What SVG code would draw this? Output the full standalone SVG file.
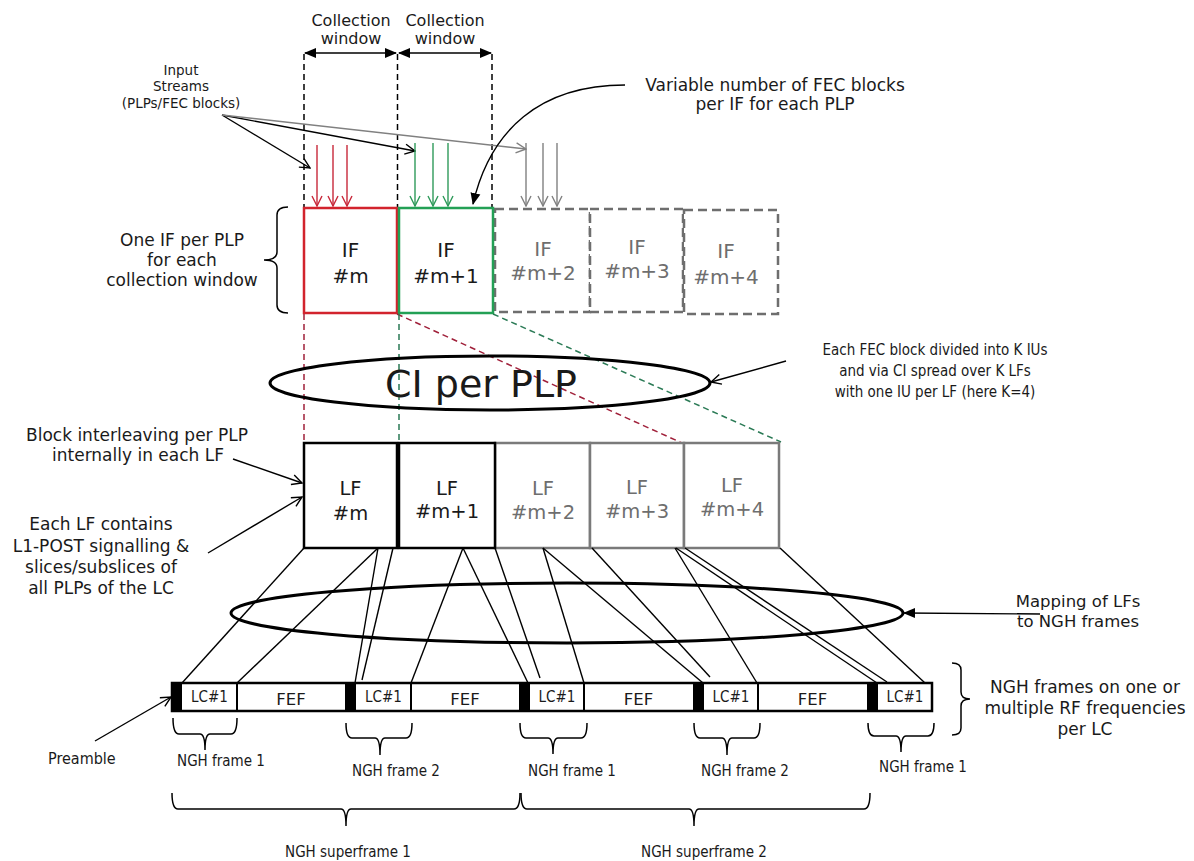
<svg xmlns="http://www.w3.org/2000/svg" width="1194" height="861" viewBox="0 0 1194 861">
  <defs>
    <style>
      text { font-family: "DejaVu Sans", Verdana, sans-serif; fill: #1a1a1a; text-anchor: middle; }
      .cond { font-family: "DejaVu Sans Condensed", "DejaVu Sans", sans-serif; font-stretch: condensed; }
      .grey { fill: #6e6e6e; }
      .thin { fill: none; stroke: #000; stroke-width: 1.4; }
      .guide { fill: none; stroke: #000; stroke-width: 1.5; stroke-dasharray: 6 4; }
      .brace { fill: none; stroke: #000; stroke-width: 1.5; }
      .lfb { fill: #fff; stroke: #000; stroke-width: 2.5; }
      .lfg { fill: #fff; stroke: #7a7a7a; stroke-width: 2.5; }
      .ifg { fill: #fff; stroke: #6e6e6e; stroke-width: 2.5; stroke-dasharray: 9 5; }
    </style>
    <marker id="open" viewBox="0 0 12 12" refX="11" refY="6" markerWidth="12" markerHeight="12" orient="auto" markerUnits="userSpaceOnUse">
      <path d="M1,1 L11,6 L1,11" fill="none" stroke="#000" stroke-width="1.4"/>
    </marker>
    <marker id="openRed" viewBox="0 0 12 12" refX="11" refY="6" markerWidth="12" markerHeight="12" orient="auto" markerUnits="userSpaceOnUse">
      <path d="M1,1 L11,6 L1,11" fill="none" stroke="#c8283a" stroke-width="1.4"/>
    </marker>
    <marker id="openGreen" viewBox="0 0 12 12" refX="11" refY="6" markerWidth="12" markerHeight="12" orient="auto" markerUnits="userSpaceOnUse">
      <path d="M1,1 L11,6 L1,11" fill="none" stroke="#2e9a5a" stroke-width="1.4"/>
    </marker>
    <marker id="openGrey" viewBox="0 0 12 12" refX="11" refY="6" markerWidth="12" markerHeight="12" orient="auto" markerUnits="userSpaceOnUse">
      <path d="M1,1 L11,6 L1,11" fill="none" stroke="#808080" stroke-width="1.4"/>
    </marker>
    <marker id="solid" viewBox="0 0 12 12" refX="11" refY="6" markerWidth="12" markerHeight="12" orient="auto-start-reverse" markerUnits="userSpaceOnUse">
      <path d="M0,1 L12,6 L0,11 Z" fill="#000"/>
    </marker>
  </defs>
  <rect width="1194" height="861" fill="#fff"/>

  <!-- collection windows -->
  <g id="collection-windows">
    <text x="351" y="26" font-size="16">Collection</text>
    <text x="351" y="44" font-size="16">window</text>
    <text x="445" y="26" font-size="16">Collection</text>
    <text x="445" y="44" font-size="16">window</text>
    <line class="guide" x1="304" y1="54" x2="304" y2="207"/>
    <line class="guide" x1="397.5" y1="54" x2="397.5" y2="207"/>
    <line class="guide" x1="492" y1="54" x2="492" y2="207"/>
    <line class="thin" x1="305" y1="53" x2="396" y2="53" marker-start="url(#solid)" marker-end="url(#solid)"/>
    <line class="thin" x1="399" y1="53" x2="491" y2="53" marker-start="url(#solid)" marker-end="url(#solid)"/>
  </g>

  <!-- input streams -->
  <g id="input-streams">
    <text x="181" y="75" font-size="13.5">Input</text>
    <text x="181" y="91" font-size="13.5">Streams</text>
    <text x="181" y="108" font-size="13.5">(PLPs/FEC blocks)</text>
    <line class="thin" x1="222" y1="115" x2="310" y2="168" marker-end="url(#open)"/>
    <line class="thin" x1="222" y1="115" x2="415" y2="151" marker-end="url(#open)"/>
    <line x1="222" y1="115" x2="526" y2="149" stroke="#808080" stroke-width="1.4" marker-end="url(#openGrey)"/>
    <g stroke="#c8283a" stroke-width="1.4">
      <line x1="317" y1="145" x2="317" y2="206" marker-end="url(#openRed)"/>
      <line x1="333" y1="145" x2="333" y2="206" marker-end="url(#openRed)"/>
      <line x1="347" y1="145" x2="347" y2="206" marker-end="url(#openRed)"/>
    </g>
    <g stroke="#2e9a5a" stroke-width="1.4">
      <line x1="415" y1="143" x2="415" y2="206" marker-end="url(#openGreen)"/>
      <line x1="433" y1="143" x2="433" y2="206" marker-end="url(#openGreen)"/>
      <line x1="448" y1="143" x2="448" y2="206" marker-end="url(#openGreen)"/>
    </g>
    <g stroke="#808080" stroke-width="1.4">
      <line x1="526" y1="143" x2="526" y2="206" marker-end="url(#openGrey)"/>
      <line x1="543" y1="143" x2="543" y2="206" marker-end="url(#openGrey)"/>
      <line x1="557" y1="143" x2="557" y2="206" marker-end="url(#openGrey)"/>
    </g>
  </g>

  <!-- variable number note -->
  <g id="fec-note">
    <text x="775" y="91" font-size="17">Variable number of FEC blocks</text>
    <text x="775" y="110" font-size="17">per IF for each PLP</text>
    <path class="thin" d="M625,85 C540,85 490,130 473,204" marker-end="url(#solid)"/>
  </g>

  <!-- interleaving frames -->
  <g id="if-label">
    <path class="brace" d="M288,207 Q277,207 277,215 L277,252 Q277,260 264,260 Q277,260 277,268 L277,305 Q277,313 288,313"/>
    <text x="182" y="246" font-size="17">One IF per PLP</text>
    <text x="182" y="266" font-size="17">for each</text>
    <text x="182" y="286" font-size="17">collection window</text>
  </g>
  <g id="if-m+2">
    <rect class="ifg" x="495" y="209" width="95" height="103"/>
    <text class="grey" x="543" y="256" font-size="20">IF</text>
    <text class="grey" x="543" y="280" font-size="20">#m+2</text>
  </g>
  <g id="if-m+3">
    <rect class="ifg" x="590" y="209" width="93" height="103"/>
    <text class="grey" x="637" y="254" font-size="20">IF</text>
    <text class="grey" x="637" y="278" font-size="20">#m+3</text>
  </g>
  <g id="if-m+4">
    <rect class="ifg" x="684" y="210" width="94" height="104"/>
    <text class="grey" x="726" y="258" font-size="20">IF</text>
    <text class="grey" x="726" y="284" font-size="20">#m+4</text>
  </g>
  <g id="if-m">
    <rect x="304" y="208" width="93" height="105" fill="#fff" stroke="#d2232d" stroke-width="2.5"/>
    <text x="350.5" y="257" font-size="20">IF</text>
    <text x="350.5" y="283" font-size="20">#m</text>
  </g>
  <g id="if-m+1">
    <rect x="399" y="208" width="94" height="105" fill="#fff" stroke="#23a055" stroke-width="2.5"/>
    <text x="446" y="257" font-size="20">IF</text>
    <text x="446" y="283" font-size="20">#m+1</text>
  </g>

  <!-- convolutional interleaving spread -->
  <g id="ci-spread" fill="none" stroke-width="1.5" stroke-dasharray="6 4">
    <line x1="304" y1="314" x2="304" y2="443" stroke="#a0203a"/>
    <line x1="397" y1="314" x2="682" y2="443" stroke="#a0203a"/>
    <line x1="399" y1="314" x2="399" y2="443" stroke="#2a7a55"/>
    <line x1="493" y1="314" x2="781" y2="442" stroke="#2a7a55"/>
  </g>
  <g id="ci-per-plp">
    <ellipse cx="490" cy="383" rx="220" ry="27" fill="none" stroke="#000" stroke-width="3"/>
    <text x="481" y="397" font-size="38">CI per PLP</text>
  </g>
  <g id="ci-note">
    <text class="cond" x="935" y="355" font-size="15">Each FEC block divided into K IUs</text>
    <text class="cond" x="935" y="376" font-size="15">and via CI spread over K LFs</text>
    <text class="cond" x="935" y="397" font-size="15">with one IU per LF (here K=4)</text>
    <line class="thin" x1="786" y1="361" x2="711" y2="382" marker-end="url(#open)"/>
  </g>

  <!-- logical frames -->
  <g id="lf-notes">
    <text x="137" y="441" font-size="17">Block interleaving per PLP</text>
    <text x="138" y="461" font-size="17">internally in each LF</text>
    <line class="thin" x1="233" y1="459" x2="302" y2="483" marker-end="url(#open)"/>
    <text x="101" y="530" font-size="17">Each LF contains</text>
    <text x="101" y="552" font-size="17">L1-POST signalling &amp;</text>
    <text x="101" y="573" font-size="17">slices/subslices of</text>
    <text x="101" y="594" font-size="17">all PLPs of the LC</text>
    <line class="thin" x1="208" y1="553" x2="302" y2="497" marker-end="url(#open)"/>
  </g>
  <g id="lf-m+2">
    <rect class="lfg" x="495" y="443" width="95" height="105"/>
    <text class="grey" x="543" y="495" font-size="19.5">LF</text>
    <text class="grey" x="543" y="519" font-size="19.5">#m+2</text>
  </g>
  <g id="lf-m+3">
    <rect class="lfg" x="590" y="443" width="94" height="105"/>
    <text class="grey" x="637" y="494" font-size="19.5">LF</text>
    <text class="grey" x="637" y="518" font-size="19.5">#m+3</text>
  </g>
  <g id="lf-m+4">
    <rect class="lfg" x="684" y="443" width="95" height="105"/>
    <text class="grey" x="732" y="492" font-size="19.5">LF</text>
    <text class="grey" x="732" y="516" font-size="19.5">#m+4</text>
  </g>
  <g id="lf-m">
    <rect class="lfb" x="304" y="443" width="93" height="105"/>
    <text x="350.5" y="495" font-size="19.5">LF</text>
    <text x="350.5" y="520" font-size="19.5">#m</text>
  </g>
  <g id="lf-m+1">
    <rect class="lfb" x="399" y="443" width="96" height="105"/>
    <text x="447" y="495" font-size="19.5">LF</text>
    <text x="447" y="518" font-size="19.5">#m+1</text>
  </g>

  <!-- mapping of logical frames onto NGH frames -->
  <g id="mapping-lines" class="thin">
    <line x1="304" y1="548" x2="182" y2="683"/>
    <line x1="378" y1="548" x2="237" y2="683"/>
    <line x1="378" y1="548" x2="355" y2="683"/>
    <line x1="393" y1="548" x2="362" y2="680"/>
    <line x1="463" y1="548" x2="411" y2="683"/>
    <line x1="463" y1="548" x2="528" y2="683"/>
    <line x1="495" y1="548" x2="540" y2="678"/>
    <line x1="543" y1="548" x2="584" y2="683"/>
    <line x1="543" y1="548" x2="703" y2="683"/>
    <line x1="592" y1="548" x2="710" y2="677"/>
    <line x1="675" y1="548" x2="757" y2="683"/>
    <line x1="676" y1="548" x2="877" y2="683"/>
    <line x1="685" y1="548" x2="887" y2="682"/>
    <line x1="780" y1="548" x2="925" y2="683"/>
  </g>
  <g id="mapping">
    <ellipse cx="567" cy="613" rx="336" ry="30" fill="none" stroke="#000" stroke-width="3"/>
    <text x="1078" y="607" font-size="16.5">Mapping of LFs</text>
    <text x="1078" y="627" font-size="16.5">to NGH frames</text>
    <line class="thin" x1="1040" y1="614" x2="904" y2="613" marker-end="url(#solid)"/>
  </g>

  <!-- NGH frame sequence -->
  <g id="ngh-frames">
    <rect x="172" y="683" width="760" height="28" fill="#fff" stroke="#000" stroke-width="2.5"/>
    <g fill="#000">
      <rect x="172" y="683" width="10" height="28"/>
      <rect x="345" y="683" width="11" height="28"/>
      <rect x="519" y="683" width="11" height="28"/>
      <rect x="693" y="683" width="11" height="28"/>
      <rect x="867" y="683" width="11" height="28"/>
    </g>
    <g stroke="#000" stroke-width="2">
      <line x1="237" y1="683" x2="237" y2="711"/>
      <line x1="411" y1="683" x2="411" y2="711"/>
      <line x1="584" y1="683" x2="584" y2="711"/>
      <line x1="758" y1="683" x2="758" y2="711"/>
    </g>
    <text class="cond" x="209.5" y="702" font-size="15">LC#1</text>
    <text class="cond" x="383.5" y="702" font-size="15">LC#1</text>
    <text class="cond" x="557" y="702" font-size="15">LC#1</text>
    <text class="cond" x="731" y="702" font-size="15">LC#1</text>
    <text class="cond" x="905" y="702" font-size="15">LC#1</text>
    <text x="291" y="705" font-size="16.5">FEF</text>
    <text x="465" y="705" font-size="16.5">FEF</text>
    <text x="638.5" y="705" font-size="16.5">FEF</text>
    <text x="812.5" y="705" font-size="16.5">FEF</text>
  </g>
  <g id="preamble">
    <text class="cond" x="48" y="764" font-size="16" style="text-anchor:start">Preamble</text>
    <line class="thin" x1="95" y1="741" x2="171" y2="697" marker-end="url(#open)"/>
  </g>
  <g id="rf-note">
    <path class="brace" d="M952,663 Q961,663 961,670 L961,692 Q961,699 970,699 Q961,699 961,706 L961,728 Q961,735 952,735"/>
    <text x="1085" y="693" font-size="17">NGH frames on one or</text>
    <text x="1085" y="714" font-size="17">multiple RF frequencies</text>
    <text x="1085" y="735" font-size="17">per LC</text>
  </g>

  <!-- frame and superframe braces -->
  <g id="frame-braces">
    <path class="brace" d="M173,718 Q173,734 179,734 L200,734 Q205,734 205,750 Q205,734 210,734 L231,734 Q237,734 237,718"/>
    <path class="brace" d="M346,723 Q346,738 352,738 L375,738 Q380,738 380,755 Q380,738 385,738 L406,738 Q412,738 412,723"/>
    <path class="brace" d="M520,723 Q520,738 526,738 L548,738 Q553,738 553,754 Q553,738 558,738 L581,738 Q587,738 587,723"/>
    <path class="brace" d="M694,723 Q694,738 700,738 L722,738 Q727,738 727,755 Q727,738 732,738 L754,738 Q760,738 760,723"/>
    <path class="brace" d="M868,723 Q868,736 874,736 L896,736 Q901,736 901,752 Q901,736 906,736 L928,736 Q934,736 934,723"/>
    <text class="cond" x="221" y="766" font-size="15">NGH frame 1</text>
    <text class="cond" x="396" y="776" font-size="15">NGH frame 2</text>
    <text class="cond" x="572" y="776" font-size="15">NGH frame 1</text>
    <text class="cond" x="745" y="776" font-size="15">NGH frame 2</text>
    <text class="cond" x="923" y="772" font-size="15">NGH frame 1</text>
  </g>
  <g id="superframe-braces">
    <path class="brace" d="M172,793 Q172,809 178,809 L341,809 Q346,809 346,826 Q346,809 351,809 L514,809 Q520,809 520,793"/>
    <path class="brace" d="M521,793 Q521,809 527,809 L689,809 Q694,809 694,826 Q694,809 699,809 L864,809 Q870,809 870,793"/>
    <text class="cond" x="348" y="857" font-size="15">NGH superframe 1</text>
    <text class="cond" x="704" y="857" font-size="15">NGH superframe 2</text>
  </g>
</svg>
